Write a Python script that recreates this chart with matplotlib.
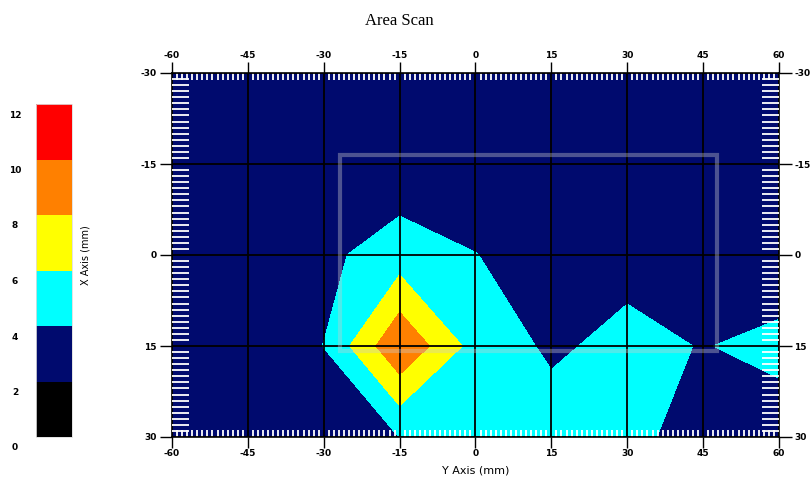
import numpy as np
import matplotlib
matplotlib.use("Agg")
import matplotlib.pyplot as plt
from matplotlib.ticker import MultipleLocator, FixedLocator
from matplotlib.patches import Rectangle

plt.rcParams["axes.unicode_minus"] = False

# ---- data ----
y_axis_mm = [-60, -45, -30, -15, 0, 15, 30, 45, 60]      # horizontal axis positions
x_axis_mm = [-30, -15, 0, 15, 30]                          # vertical axis positions
row_m30 = [3.0, 3.0, 3.0, 3.0, 3.0, 3.0, 3.0, 3.0, 3.0]
row_m15 = [3.0, 3.0, 3.0, 2.74, 3.0, 3.0, 3.0, 3.0, 3.0]
row_0 = [3.0, 3.0, 3.58, 4.94, 4.03, 3.3, 3.33, 3.2, 2.59]
row_15 = [3.0, 3.0, 4.02, 9.8, 5.2, 3.68, 4.57, 3.91, 4.585]
row_30 = [3.0, 3.0, 3.0, 4.01, 5.0, 4.91, 4.6, 3.06, 2.93]
levels = [0, 2, 4, 6, 8, 10, 12]
level_labels = ["0", "2", "4", "6", "8", "10", "12"]
band_colors = ["#000000", "#000A6E", "#00FFFF", "#FFFF00", "#FF8000", "#FF0000"]
major_ticks_h = [-60, -45, -30, -15, 0, 15, 30, 45, 60]
major_ticks_v = [-30, -15, 0, 15, 30]
scan_rect = (-26.7, -16.5, 74.35, 32.4)   # x0, y0, width, height

Z = np.array([row_m30, row_m15, row_0, row_15, row_30])

W, H = 812, 479
fig = plt.figure(figsize=(W / 100, H / 100), dpi=100)
fig.patch.set_facecolor("white")

ax = fig.add_axes([172 / W, 1 - 437 / H, (779 - 172) / W, (437 - 73) / H])
ax.set_facecolor(band_colors[1])
cs = ax.contourf(y_axis_mm, x_axis_mm, Z, levels=levels, colors=band_colors)
ax.set_xlim(-60, 60)
ax.set_ylim(30, -30)

ax.xaxis.set_major_locator(FixedLocator(major_ticks_h))
ax.yaxis.set_major_locator(FixedLocator(major_ticks_v))
ax.xaxis.set_minor_locator(MultipleLocator(1))
ax.yaxis.set_minor_locator(MultipleLocator(1))
ax.grid(True, which="major", color="black", lw=1.3)
ax.set_axisbelow(False)

ax.tick_params(axis="x", which="major", direction="out", length=8, width=1,
               top=True, bottom=True, labeltop=True, labelbottom=True, pad=1,
               labelsize=6.5)
ax.tick_params(axis="y", which="major", direction="out", length=9, width=1,
               left=True, right=True, labelleft=True, labelright=True, pad=2,
               labelsize=6.5)
ax.tick_params(axis="x", which="minor", direction="in", length=5, width=1.3,
               color="white", top=True, bottom=True)
ax.tick_params(axis="y", which="minor", direction="in", length=12, width=1.3,
               color="white", left=True, right=True)
for t in ax.xaxis.get_major_ticks() + ax.yaxis.get_major_ticks():
    t.label1.set_fontweight("bold")
    t.label2.set_fontweight("bold")
for s in ax.spines.values():
    s.set_color("black")
    s.set_linewidth(1.2)

ax.add_patch(Rectangle((scan_rect[0], scan_rect[1]), scan_rect[2], scan_rect[3],
                       fill=False, edgecolor=(0.8, 0.8, 0.8, 0.38), lw=3, zorder=3))

ax.set_xlabel("Y Axis (mm)", fontsize=8, labelpad=5)

# ---- colour bar ----
cax = fig.add_axes([36 / W, 1 - 437 / H, 36 / W, (437 - 104) / H])
cb = fig.colorbar(cs, cax=cax)
cb.outline.set_edgecolor("#dddddd")
cb.outline.set_linewidth(0.6)
cax.set_yticks([])
for lv, lab in zip(levels, level_labels):
    cax.annotate(lab, xy=(0, lv), xycoords=("axes fraction", "data"),
                 xytext=(-21, -11), textcoords="offset pixels",
                 ha="center", va="center", fontsize=6.5, fontweight="bold")
fig.text(86 / W, 1 - 255 / H, "X Axis (mm)", rotation=90, ha="center",
         va="center", fontsize=7)

fig.text(399 / W, 1 - 21 / H, "Area Scan", ha="center", va="center",
         fontsize=12, family="Liberation Serif")

fig.savefig("out.png", dpi=100)
